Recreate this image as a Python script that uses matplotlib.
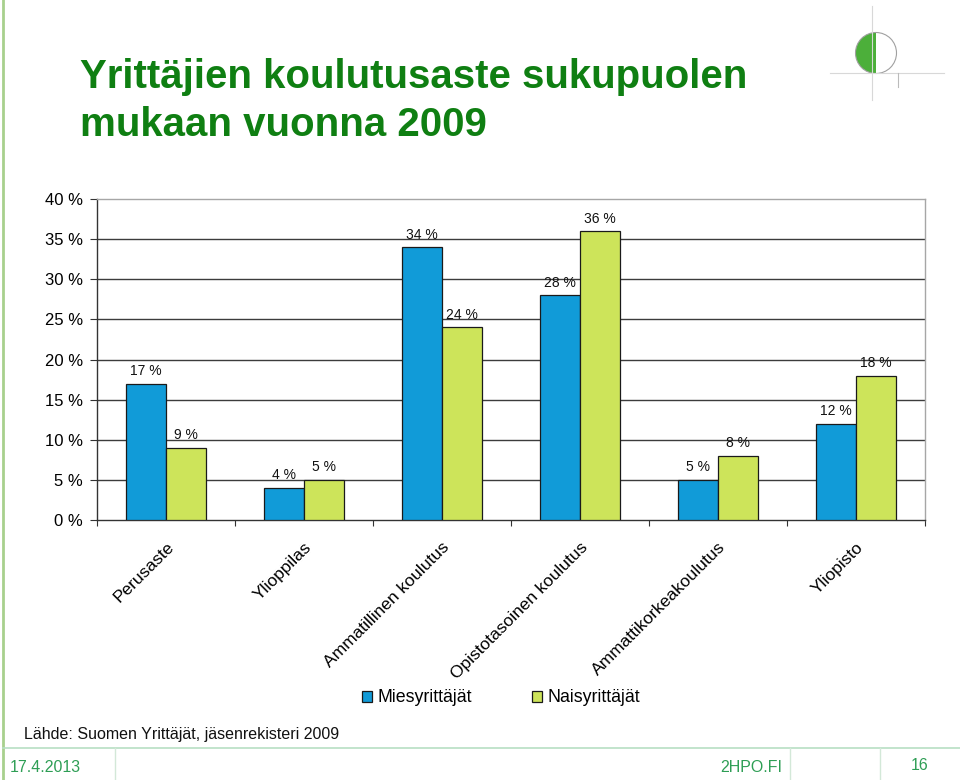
import numpy as np
import matplotlib
matplotlib.use('Agg')
import matplotlib.pyplot as plt
import matplotlib.patches as mpatches

plt.rcParams['font.family'] = ['Liberation Sans', 'DejaVu Sans']

categories = ['Perusaste', 'Ylioppilas', 'Ammatillinen koulutus',
              'Opistotasoinen koulutus', 'Ammattikorkeakoulutus', 'Yliopisto']
miehet = [17, 4, 34, 28, 5, 12]
naiset = [9, 5, 24, 36, 8, 18]
series_names = ['Miesyrittäjät', 'Naisyrittäjät']
yticks = [0, 5, 10, 15, 20, 25, 30, 35, 40]

W, H = 960, 780
blue = '#119bd8'
green = '#cde45a'
title_green = '#0f7f12'
foot_green = '#2e9e55'

fig = plt.figure(figsize=(9.6, 7.8), dpi=100)

# background layer in pixel coords (slide frame, footer, logo)
bg = fig.add_axes([0, 0, 1, 1], zorder=0)
bg.set_xlim(0, W)
bg.set_ylim(H, 0)
bg.axis('off')
bg.plot([2.5, 2.5], [0, H], color='#a8d08d', lw=2)
bg.plot([3, W], [748, 748], color='#b7dfc4', lw=1.2)
for xv in [115, 790, 880]:
    bg.plot([xv, xv], [748, H], color='#d3e8d8', lw=1)
bg.text(10, 767, '17.4.2013', color=foot_green, fontsize=11.5, va='center')
bg.text(751, 767, '2HPO.FI', color=foot_green, fontsize=11.5, va='center', ha='center')
bg.text(920, 765, '16', color=foot_green, fontsize=11.5, va='center', ha='center')
bg.text(24, 734, 'Lähde: Suomen Yrittäjät, jäsenrekisteri 2009', fontsize=11.5,
        va='center', color='#111111')

# logo
bg.plot([872, 872], [6, 100], color='#d8d8d8', lw=0.8)
bg.plot([830, 944], [73, 73], color='#d8d8d8', lw=0.8)
bg.plot([898, 898], [73, 87], color='#bbbbbb', lw=0.8)
bg.add_patch(mpatches.Wedge((876, 53), 20.5, 90, 270, facecolor='#4caf3a',
                            edgecolor='none'))
bg.add_patch(mpatches.Circle((876, 53), 20.5, facecolor='none',
                             edgecolor='#a0a0a0', lw=0.8))

# title
fig.text(80 / W, 1 - 101 / H, 'Yrittäjien koulutusaste sukupuolen\nmukaan vuonna 2009',
         color=title_green, fontsize=29, fontweight='bold', va='center',
         linespacing=1.32)

# chart
ax = fig.add_axes([97 / W, 1 - 520 / H, 828 / W, 321 / H], zorder=2)
ax.patch.set_alpha(0)
x = np.arange(len(categories))
bw = 0.29
b1 = ax.bar(x - bw / 2, miehet, bw, color=blue, edgecolor='#1a1a1a', lw=0.9,
            label=series_names[0], zorder=3)
b2 = ax.bar(x + bw / 2, naiset, bw, color=green, edgecolor='#1a1a1a', lw=0.9,
            label=series_names[1], zorder=3)
for bars, vals in [(b1, miehet), (b2, naiset)]:
    for r, v in zip(bars, vals):
        ax.annotate(f'{v} %', (r.get_x() + r.get_width() / 2, v),
                    xytext=(0, 4), textcoords='offset points',
                    ha='center', va='bottom', fontsize=10, color='#111111', zorder=4)

ax.set_xlim(-0.5, len(categories) - 0.5)
ax.set_ylim(0, 40)
ax.set_yticks(yticks)
ax.set_yticklabels([f'{t} %' for t in yticks])
for t in yticks[1:-1]:
    ax.axhline(t, color='#3c3c3c', lw=1, zorder=1)

ax.set_xticks(np.arange(len(categories) + 1) - 0.5)
ax.set_xticklabels([])
ax.set_xticks(x, minor=True)
ax.set_xticklabels(categories, minor=True, rotation=45, ha='right',
                   rotation_mode='anchor', fontsize=12.5)
ax.tick_params(axis='x', which='major', length=4, direction='out', color='#333333')
ax.tick_params(axis='x', which='minor', length=0, pad=14)
ax.tick_params(axis='y', length=5, direction='out', labelsize=12, pad=5,
               color='#333333')
for s in ['left', 'bottom']:
    ax.spines[s].set_color('#333333')
    ax.spines[s].set_linewidth(1)
for s in ['top', 'right']:
    ax.spines[s].set_color('#a6a6a6')
    ax.spines[s].set_linewidth(1)

fig.legend(handles=[b1, b2], labels=series_names, loc='center',
           bbox_to_anchor=(501 / W, 1 - 698 / H), ncol=2, frameon=False,
           fontsize=12.8, handlelength=0.55, handleheight=0.55, handletextpad=0.3,
           columnspacing=3.4)

fig.savefig('out.png', dpi=100)
